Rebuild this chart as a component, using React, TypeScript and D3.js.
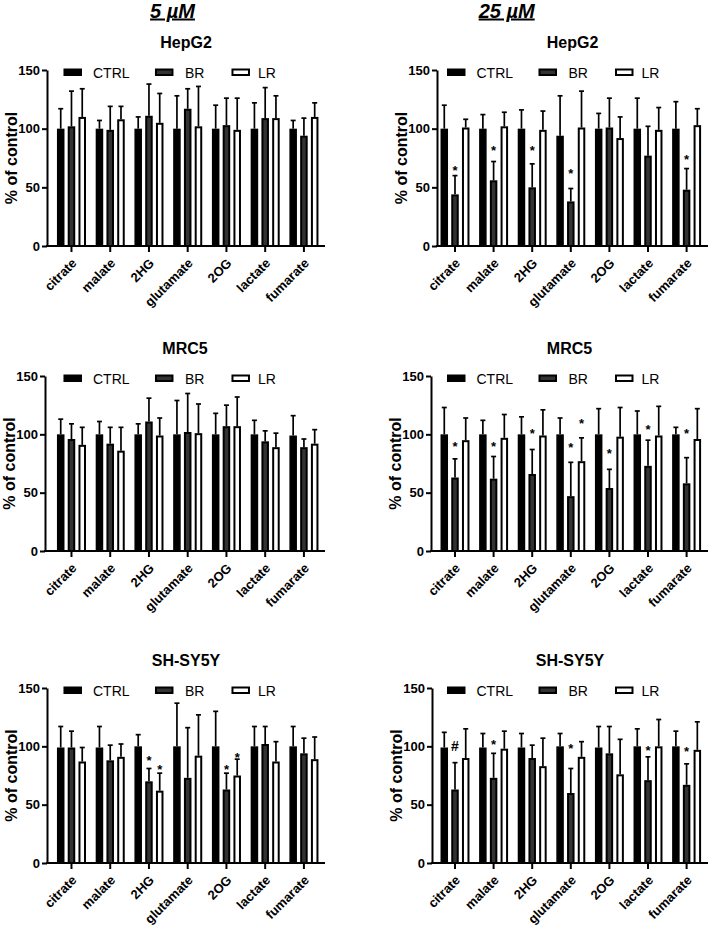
import React, { useEffect, useRef } from "react";
import * as d3 from "d3";

const categories = ["citrate", "malate", "2HG", "glutamate", "2OG", "lactate", "fumarate"];
const groups = ["CTRL", "BR", "LR"];
const yTicks = [0, 50, 100, 150];
const doses = ["5 µM", "25 µM"];

// rows: CTRL, BR, LR ; values in % of control, sd = upper error bar length
const hepg2Low = [
  [100, 100, 100, 100, 100, 100, 100],
  [102, 99, 111, 117, 103, 109, 94],
  [110, 108, 105, 102, 99, 109, 110],
];
const hepg2LowSd = [
  [17, 7, 10, 28, 20, 22, 7],
  [30, 20, 27, 17, 23, 26, 15],
  [24, 11, 25, 34, 27, 19, 12],
];
const hepg2High = [
  [100, 100, 100, 94, 100, 100, 100],
  [44, 56, 50, 38, 101, 77, 48],
  [101, 102, 99, 101, 92, 99, 103],
];
const hepg2HighSd = [
  [20, 12, 16, 34, 13, 26, 23],
  [16, 16, 20, 11, 25, 25, 18],
  [7, 12, 16, 31, 18, 19, 14],
];
const mrc5Low = [
  [100, 100, 100, 100, 100, 100, 99],
  [96, 92, 111, 102, 107, 94, 89],
  [91, 86, 99, 101, 107, 89, 92],
];
const mrc5LowSd = [
  [13, 11, 9, 29, 18, 12, 17],
  [13, 14, 20, 33, 18, 9, 7],
  [15, 20, 15, 25, 25, 12, 12],
];
const mrc5High = [
  [100, 100, 100, 100, 100, 100, 100],
  [63, 62, 66, 47, 54, 73, 58],
  [95, 97, 99, 77, 98, 99, 96],
];
const mrc5HighSd = [
  [23, 12, 15, 14, 22, 20, 6],
  [16, 19, 21, 29, 16, 22, 22],
  [19, 20, 22, 20, 25, 25, 26],
];
const shsy5yLow = [
  [99, 99, 100, 100, 100, 100, 100],
  [99, 88, 70, 73, 63, 102, 94],
  [87, 91, 62, 92, 75, 87, 89],
];
const shsy5yLowSd = [
  [18, 18, 10, 37, 30, 17, 17],
  [14, 13, 11, 43, 14, 15, 13],
  [12, 11, 15, 35, 14, 17, 19],
];
const shsy5yHigh = [
  [99, 99, 99, 100, 99, 100, 100],
  [63, 73, 90, 60, 94, 71, 67],
  [90, 98, 83, 91, 76, 100, 97],
];
const shsy5yHighSd = [
  [13, 12, 12, 11, 18, 15, 13],
  [23, 21, 11, 21, 23, 20, 18],
  [25, 15, 24, 13, 30, 23, 24],
];

// significance marks: [category, group, symbol, level]
const hepg2HighMarks = [
  ["citrate", "BR", "*", 67],
  ["malate", "BR", "*", 84],
  ["2HG", "BR", "*", 84],
  ["glutamate", "BR", "*", 64],
  ["fumarate", "BR", "*", 76],
];
const mrc5HighMarks = [
  ["citrate", "BR", "*", 92],
  ["malate", "BR", "*", 92],
  ["2HG", "BR", "*", 103],
  ["glutamate", "BR", "*", 91],
  ["glutamate", "LR", "*", 112],
  ["2OG", "BR", "*", 86],
  ["lactate", "BR", "*", 107],
  ["fumarate", "BR", "*", 103],
];
const shsy5yLowMarks = [
  ["2HG", "BR", "*", 90],
  ["2HG", "LR", "*", 83],
  ["2OG", "BR", "*", 83],
  ["2OG", "LR", "*", 93],
];
const shsy5yHighMarks = [
  ["citrate", "BR", "#", 100],
  ["malate", "BR", "*", 104],
  ["glutamate", "BR", "*", 101],
  ["lactate", "BR", "*", 99],
  ["fumarate", "BR", "*", 98],
];

const panels = [
  { title: "HepG2", col: 0, row: 0, axisX: 47, mean: hepg2Low, sd: hepg2LowSd, marks: [] },
  { title: "HepG2", col: 1, row: 0, axisX: 437, mean: hepg2High, sd: hepg2HighSd, marks: hepg2HighMarks },
  { title: "MRC5", col: 0, row: 1, axisX: 45, mean: mrc5Low, sd: mrc5LowSd, marks: [] },
  { title: "MRC5", col: 1, row: 1, axisX: 431, mean: mrc5High, sd: mrc5HighSd, marks: mrc5HighMarks },
  { title: "SH-SY5Y", col: 0, row: 2, axisX: 47, mean: shsy5yLow, sd: shsy5yLowSd, marks: shsy5yLowMarks },
  { title: "SH-SY5Y", col: 1, row: 2, axisX: 432, mean: shsy5yHigh, sd: shsy5yHighSd, marks: shsy5yHighMarks },
];

const W = 708,
  H = 930;
const FONT = "'Liberation Sans', Arial, Helvetica, sans-serif";
const rows = [
  { y0: 246, yTop: 70 },
  { y0: 551, yTop: 376 },
  { y0: 863, yTop: 688 },
];
const cols = [
  { band: [49.2, 326.2], axisEnd: 325, doseX: 172.5 },
  { band: [432.8, 708.8], axisEnd: 708, doseX: 506.7 },
];
const fills = { CTRL: "#000", BR: "#333", LR: "#fff" };
const legendPos = { CTRL: [-8, 21.5], BR: [83.5, 113.5], LR: [160, 186.5] };

export default function App() {
  const ref = useRef<SVGSVGElement>(null);

  useEffect(() => {
    const svg = d3.select(ref.current);
    svg.selectAll("*").remove();
    svg.attr("font-family", FONT);

    // dose headers
    cols.forEach((c, i) => {
      svg
        .append("text")
        .attr("x", c.doseX)
        .attr("y", 17.5)
        .attr("text-anchor", "middle")
        .attr("font-size", 20)
        .attr("font-weight", "bold")
        .attr("font-style", "italic")
        .attr("text-decoration", "underline")
        .text(doses[i]);
    });

    panels.forEach((p) => {
      const row = rows[p.row];
      const col = cols[p.col];
      const g = svg.append("g");

      const y = d3.scaleLinear().domain([0, 150]).range([row.y0, row.yTop]);
      const x = d3
        .scaleBand()
        .domain(categories)
        .range(col.band as [number, number])
        .paddingInner(0.25)
        .paddingOuter(0.2);
      const xs = d3.scaleBand().domain(groups).range([0, x.bandwidth()]).paddingInner(0.3);
      const bw = xs.bandwidth();

      // title
      g.append("text")
        .attr("x", (p.axisX + col.axisEnd) / 2)
        .attr("y", row.yTop - 22.5)
        .attr("text-anchor", "middle")
        .attr("font-size", 16)
        .attr("font-weight", "bold")
        .text(p.title);

      // y label
      g.append("text")
        .attr("transform", `translate(${p.axisX - 30},${(row.y0 + row.yTop) / 2}) rotate(-90)`)
        .attr("text-anchor", "middle")
        .attr("font-size", 16)
        .attr("font-weight", "bold")
        .text("% of control");

      // bars
      groups.forEach((grp, gi) => {
        categories.forEach((cat, ci) => {
          const v = p.mean[gi][ci];
          const e = p.sd[gi][ci];
          const x0 = (x(cat) as number) + (xs(grp) as number);
          const cx = x0 + bw / 2;
          const sw = grp === "CTRL" ? 1.5 : 2;
          // error bar (upper only)
          g.append("line")
            .attr("x1", cx)
            .attr("x2", cx)
            .attr("y1", y(v))
            .attr("y2", y(v + e))
            .attr("stroke", "#000")
            .attr("stroke-width", 1.7);
          g.append("line")
            .attr("x1", cx - 2.5)
            .attr("x2", cx + 2.5)
            .attr("y1", y(v + e))
            .attr("y2", y(v + e))
            .attr("stroke", "#000")
            .attr("stroke-width", 1.7);
          g.append("rect")
            .attr("x", x0 + sw / 2)
            .attr("width", bw - sw)
            .attr("y", y(v) + sw / 2)
            .attr("height", Math.max(0, row.y0 - y(v) - sw / 2))
            .attr("fill", fills[grp])
            .attr("stroke", "#000")
            .attr("stroke-width", sw);
        });
      });

      // significance marks
      p.marks.forEach(([cat, grp, sym, level]) => {
        const cx = (x(cat as string) as number) + (xs(grp as string) as number) + bw / 2;
        const fs = sym === "#" ? 14 : 13;
        const off = sym === "#" ? 0.36 : 0.57;
        g.append("text")
          .attr("x", cx)
          .attr("y", y(level as number) + fs * off)
          .attr("text-anchor", "middle")
          .attr("font-size", fs)
          .attr("font-weight", "bold")
          .text(sym as string);
      });

      // y axis
      const gy = g
        .append("g")
        .attr("transform", `translate(${p.axisX},0)`)
        .call(d3.axisLeft(y).tickValues(yTicks).tickSize(5).tickSizeOuter(0).tickPadding(2));
      gy.select(".domain").attr("stroke-width", 2);
      gy.selectAll(".tick line").attr("stroke-width", 2);
      gy.selectAll(".tick text")
        .attr("font-family", FONT)
        .attr("font-size", 13)
        .attr("font-weight", "bold")
        .attr("fill", "#000");

      // x axis
      const gx = g
        .append("g")
        .attr("transform", `translate(0,${row.y0})`)
        .call(d3.axisBottom(x).tickSize(6).tickSizeOuter(0));
      gx.select(".domain").remove();
      gx.selectAll(".tick line").attr("stroke-width", 2);
      gx.selectAll(".tick text")
        .attr("x", 0)
        .attr("y", 0)
        .attr("dy", 0)
        .attr("text-anchor", "end")
        .attr("transform", "translate(6,18) rotate(-45)")
        .attr("font-family", FONT)
        .attr("font-size", 13)
        .attr("font-weight", "bold")
        .attr("fill", "#000");
      g.append("line")
        .attr("x1", p.axisX - 1)
        .attr("x2", col.axisEnd)
        .attr("y1", row.y0)
        .attr("y2", row.y0)
        .attr("stroke", "#000")
        .attr("stroke-width", 2);

      // legend
      const lx = (x(categories[0]) as number) + x.bandwidth() / 2;
      groups.forEach((grp) => {
        const [sx, tx] = legendPos[grp];
        const sw = grp === "CTRL" ? 1.5 : 2;
        g.append("rect")
          .attr("x", lx + sx + sw / 2)
          .attr("y", row.yTop - 1.5 + sw / 2)
          .attr("width", 18.5 - sw)
          .attr("height", 7.5 - sw)
          .attr("fill", fills[grp])
          .attr("stroke", "#000")
          .attr("stroke-width", sw);
        g.append("text")
          .attr("x", lx + tx)
          .attr("y", row.yTop + 7.7)
          .attr("font-size", 14)
          .text(grp);
      });
    });
  }, []);

  return (
    <svg
      ref={ref}
      width={W}
      height={H}
      style={{ position: "absolute", left: 0, top: 0, background: "#fff" }}
    />
  );
}
